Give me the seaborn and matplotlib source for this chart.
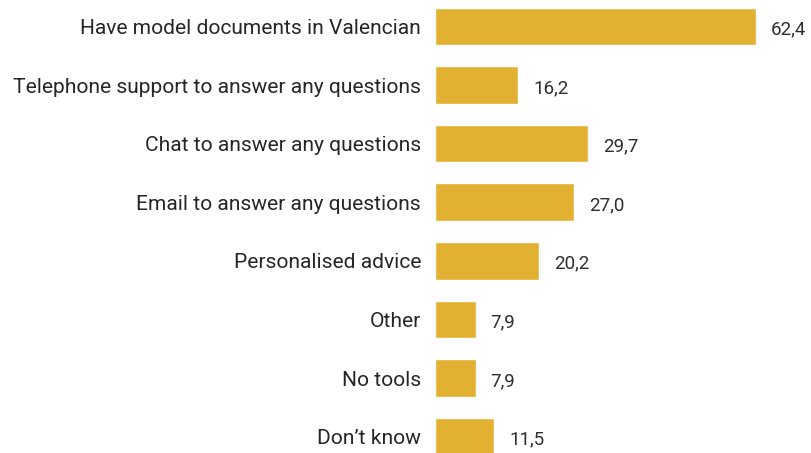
import matplotlib.pyplot as plt
import seaborn as sns
import pandas as pd

# data
categories = [
    'Have model documents in Valencian',
    'Telephone support to answer any questions',
    'Chat to answer any questions',
    'Email to answer any questions',
    'Personalised advice',
    'Other',
    'No tools',
    'Don\u2019t know',
]
values = [62.4, 16.2, 29.7, 27.0, 20.2, 7.9, 7.9, 11.5]

df = pd.DataFrame({'category': categories, 'value': values})

sns.set_style('white')
plt.rcParams['font.family'] = ['Roboto', 'DejaVu Sans']

fig = plt.figure(figsize=(8.12, 4.53), dpi=100)
ax = fig.add_axes([435 / 812, 0, 1 - 435 / 812, 1])

sns.barplot(data=df, x='value', y='category', color='#E3B132',
            saturation=1, width=0.64, ax=ax)

ax.set_xlim(0, 73.3)
ax.set_ylim(7.28, -0.452)

# value labels with comma decimals, a bit right of and below bar end
for v, p in zip(values, ax.patches):
    y = p.get_y() + p.get_height() / 2
    ax.annotate(f"{v:.1f}".replace('.', ','), (v, y), xytext=(15, -3),
                textcoords='offset pixels', ha='left', va='center',
                fontsize=13.5, color='#2e2e2e')

ax.set_xlabel('')
ax.set_ylabel('')
ax.set_xticks([])
ax.tick_params(axis='y', length=0, pad=10)
for lbl in ax.get_yticklabels():
    lbl.set_fontsize(15.1)
    lbl.set_color('#262626')
sns.despine(ax=ax, left=True, bottom=True)

fig.savefig('out.png', dpi=100)
